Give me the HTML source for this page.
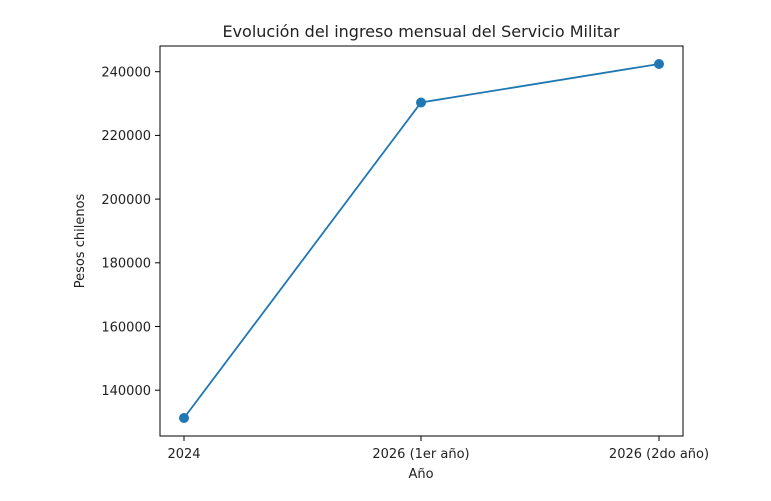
<!DOCTYPE html>
<html><head><meta charset="utf-8"><style>body{margin:0;background:#fff}</style></head><body>
<svg width="771" height="496" xmlns="http://www.w3.org/2000/svg" font-family="DejaVu Sans, sans-serif" font-size="13" fill="#222">
<rect width="771" height="496" fill="#fff"/>
<text x="421" y="37" text-anchor="middle" font-size="16">Evolución del ingreso mensual del Servicio Militar</text>
<rect x="160" y="46" width="523" height="390" fill="none" stroke="#000" stroke-width="1"/>
<g stroke="#000">
<line x1="155" y1="71.7" x2="160" y2="71.7"/>
<line x1="155" y1="135.4" x2="160" y2="135.4"/>
<line x1="155" y1="199.1" x2="160" y2="199.1"/>
<line x1="155" y1="262.8" x2="160" y2="262.8"/>
<line x1="155" y1="326.5" x2="160" y2="326.5"/>
<line x1="155" y1="390.2" x2="160" y2="390.2"/>
<line x1="184" y1="436" x2="184" y2="441"/>
<line x1="421" y1="436" x2="421" y2="441"/>
<line x1="659" y1="436" x2="659" y2="441"/>
</g>
<g text-anchor="end">
<text x="151" y="76.5">240000</text>
<text x="151" y="140.2">220000</text>
<text x="151" y="203.9">200000</text>
<text x="151" y="267.6">180000</text>
<text x="151" y="331.3">160000</text>
<text x="151" y="395">140000</text>
</g>
<g text-anchor="middle">
<text x="184" y="458">2024</text>
<text x="421" y="458">2026 (1er año)</text>
<text x="659" y="458">2026 (2do año)</text>
<text x="421" y="478">Año</text>
</g>
<text transform="translate(84,241) rotate(-90)" text-anchor="middle">Pesos chilenos</text>
<polyline points="184,418 421,102.5 659,64" fill="none" stroke="#1f77b4" stroke-width="1.8"/>
<g fill="#1f77b4"><circle cx="184" cy="418" r="5"/><circle cx="421" cy="102.5" r="5"/><circle cx="659" cy="64" r="5"/></g>
</svg>
</body></html>
